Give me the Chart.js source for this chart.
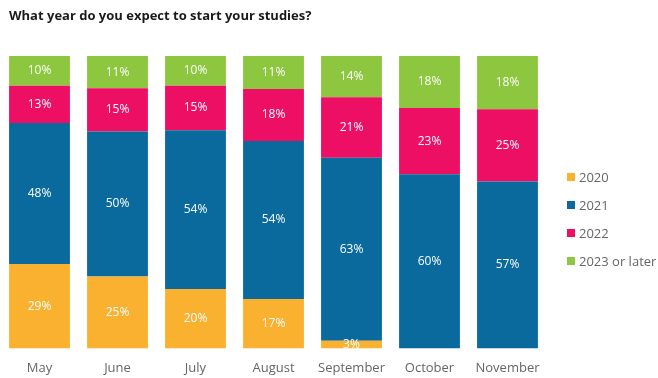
<!DOCTYPE html>
<html>
<head>
<meta charset="utf-8">
<script src="https://cdn.jsdelivr.net/npm/chart.js@4/dist/chart.umd.min.js"></script>
<style>
  html, body { margin: 0; padding: 0; background: #fff; }
  #wrap { position: relative; width: 658px; height: 378px; overflow: hidden; font-family: "Open Sans", sans-serif; }
  #c { position: absolute; left: 0; top: 0; }
  #title { position: absolute; left: 9px; top: 6px; font-size: 13px; font-weight: bold; color: #1a1a1a; white-space: nowrap; }
  #legend { position: absolute; left: 567px; top: 163px; }
  .li { display: flex; align-items: center; height: 28px; font-size: 13px; color: #666; white-space: nowrap; }
  .sw { width: 8px; height: 8px; margin-right: 4px; }
</style>
</head>
<body>
<div id="wrap">
  <canvas id="c" width="658" height="384"></canvas>
  <div id="title">What year do you expect to start your studies?</div>
  <div id="legend"></div>
</div>
<script>
const categories = ['May', 'June', 'July', 'August', 'September', 'October', 'November'];
const seriesNames = ['2020', '2021', '2022', '2023 or later'];
const v2020 = [28.9, 24.6, 20.3, 16.9, 2.6, 0, 0];
const v2021 = [48.2, 49.6, 54.3, 54.0, 62.6, 59.6, 57.1];
const v2022 = [12.7, 14.8, 15.2, 17.8, 20.7, 22.6, 24.7];
const v2023 = [10.2, 11.0, 10.2, 11.3, 14.1, 17.8, 18.2];
const colors = ['#FBB130', '#0A6A9E', '#EC0F64', '#8DC63F'];
const seriesValues = [v2020, v2021, v2022, v2023];

const labelPlugin = {
  id: 'segLabels',
  afterDatasetsDraw(chart) {
    const ctx = chart.ctx;
    const a = chart.chartArea;
    ctx.save();
    ctx.beginPath();
    ctx.rect(a.left, a.top, a.right - a.left, a.bottom - a.top);
    ctx.clip();
    ctx.font = '12px "Open Sans"';
    ctx.fillStyle = '#ffffff';
    ctx.textAlign = 'center';
    ctx.textBaseline = 'middle';
    chart.data.datasets.forEach((ds, di) => {
      const meta = chart.getDatasetMeta(di);
      meta.data.forEach((el, i) => {
        const v = ds.data[i];
        if (!v) return;
        ctx.fillText(Math.round(v) + '%', el.x, (el.y + el.base) / 2);
      });
    });
    ctx.restore();
  }
};

const chart = new Chart(document.getElementById('c'), {
  type: 'bar',
  data: {
    labels: categories,
    datasets: seriesNames.map((n, i) => ({
      label: n,
      data: seriesValues[i],
      backgroundColor: colors[i],
      borderWidth: 0,
      categoryPercentage: 1,
      barPercentage: 0.78
    }))
  },
  options: {
    responsive: false,
    animation: false,
    layout: { padding: { top: 56, left: 0.5, right: 111.5, bottom: 4 } },
    plugins: { legend: { display: false }, title: { display: false }, tooltip: { enabled: false } },
    scales: {
      x: {
        stacked: true,
        grid: { display: false },
        border: { display: false },
        ticks: { color: '#666', font: { family: '"Open Sans"', size: 13 }, padding: 4, maxRotation: 0 }
      },
      y: {
        stacked: true,
        display: false,
        min: 0,
        max: 100
      }
    }
  },
  plugins: [labelPlugin]
});

const leg = document.getElementById('legend');
chart.data.datasets.forEach(ds => {
  const row = document.createElement('div');
  row.className = 'li';
  const sw = document.createElement('span');
  sw.className = 'sw';
  sw.style.background = ds.backgroundColor;
  const t = document.createElement('span');
  t.textContent = ds.label;
  row.appendChild(sw);
  row.appendChild(t);
  leg.appendChild(row);
});
</script>
</body>
</html>
